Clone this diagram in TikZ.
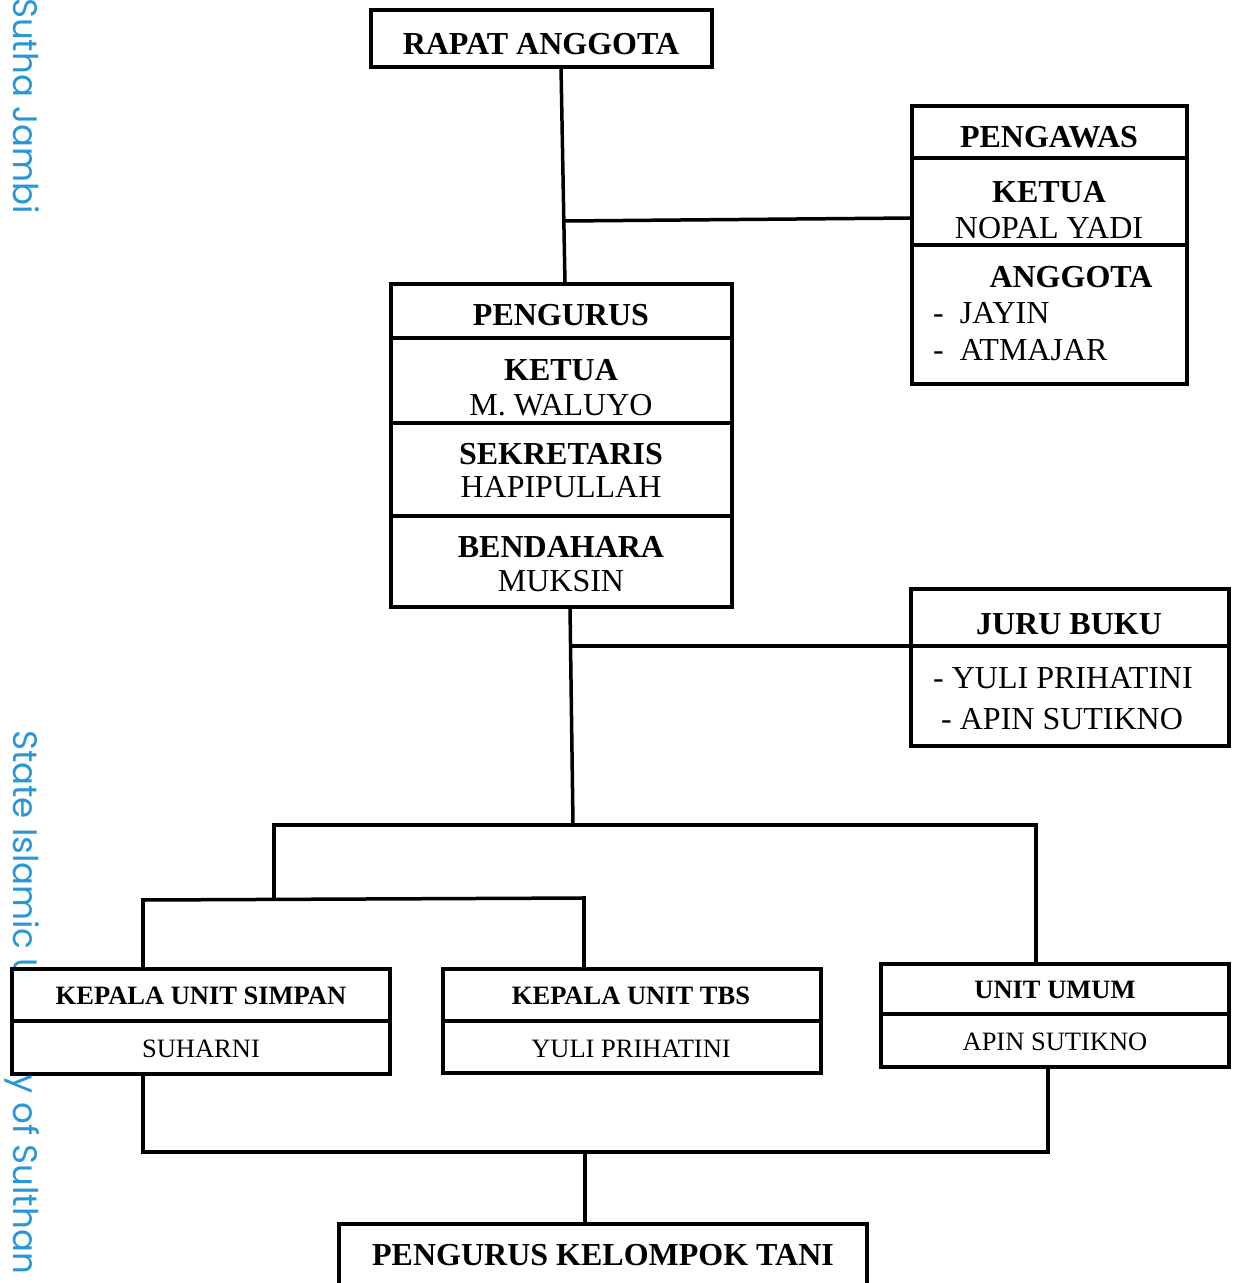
\documentclass[tikz,border=0pt]{standalone}
\usepackage{fontspec}
\setmainfont{Liberation Serif}
\newfontfamily\wmfont{Poppins}
\definecolor{wmblue}{RGB}{40,150,215}
\tikzset{
  box/.style={draw=black, line width=3.5pt, fill=white, rectangle, inner sep=0pt, outer sep=0pt, anchor=north west},
  big/.style={font=\fontsize{32}{36}\selectfont, inner sep=0pt, anchor=base},
  bigb/.style={big, font=\fontsize{32}{36}\selectfont\bfseries},
  small/.style={font=\fontsize{26.5}{30}\selectfont, inner sep=0pt, anchor=base},
  smallb/.style={small, font=\fontsize{26.5}{30}\selectfont\bfseries},
  conn/.style={line width=3.5pt, line cap=rect},
  divider/.style={line width=3.5pt},
  wm/.style={font=\wmfont\fontsize{34}{40}\selectfont, text=wmblue, rotate=-90, inner sep=0pt, anchor=base west}
}
\begin{document}
\begin{tikzpicture}[x=1pt,y=-1pt]
\useasboundingbox (0,0) rectangle (1237,1283);
\clip (0,0) rectangle (1237,1283);
\fill[white] (0,0) rectangle (1237,1283);
% watermark
\node[wm] (wm1) at (13,-2) {Sutha Jambi};
\node[wm] (wm2) at (13,730) {State Islamic Uni};
\node[wm] (wm3) at (13,1062) {ty of Sulthan};

% boxes
\node[box, minimum width=341pt, minimum height=57pt] (rapat) at (371,10) {};
\node[box, minimum width=275pt, minimum height=278pt] (pengawas) at (912,106) {};
\node[box, minimum width=341pt, minimum height=323pt] (pengurus) at (391,284) {};
\node[box, minimum width=318pt, minimum height=157pt] (juru) at (911,589) {};
\node[box, minimum width=378pt, minimum height=105pt] (kus) at (12,969) {};
\node[box, minimum width=378pt, minimum height=104pt] (tbs) at (443,969) {};
\node[box, minimum width=348pt, minimum height=103pt] (umum) at (881,964) {};
\node[box, minimum width=528pt, minimum height=90pt] (kt) at (339,1224) {};

% dividers
\draw[divider] (pengawas.west |- 0,158) -- (pengawas.east |- 0,158);
\draw[divider] (pengawas.west |- 0,245) -- (pengawas.east |- 0,245);
\draw[divider] (pengurus.west |- 0,338) -- (pengurus.east |- 0,338);
\draw[divider] (pengurus.west |- 0,423) -- (pengurus.east |- 0,423);
\draw[divider] (pengurus.west |- 0,516) -- (pengurus.east |- 0,516);
\draw[divider] (juru.west |- 0,646) -- (juru.east |- 0,646);
\draw[divider] (kus.west |- 0,1021) -- (kus.east |- 0,1021);
\draw[divider] (tbs.west |- 0,1021) -- (tbs.east |- 0,1021);
\draw[divider] (umum.west |- 0,1014) -- (umum.east |- 0,1014);

% texts
\node[bigb] (t-rapat) at (541,54) {RAPAT ANGGOTA};
\node[bigb] (t-pengawas) at (1049,147) {PENGAWAS};
\node[bigb] (t-ketua1) at (1049,202) {KETUA};
\node[big] (t-nopal) at (1049,238) {NOPAL YADI};
\node[bigb] (t-anggota) at (1071,287) {ANGGOTA};
\node[big, anchor=base west] (t-jayin) at (933,323) {-~~JAYIN};
\node[big, anchor=base west] (t-atmajar) at (933,360) {-~~ATMAJAR};

\node[bigb] (t-pengurus) at (561,325) {PENGURUS};
\node[bigb] (t-ketua2) at (561,380) {KETUA};
\node[big] (t-waluyo) at (561,415) {M. WALUYO};
\node[bigb] (t-sek) at (561,464) {SEKRETARIS};
\node[big] (t-hapi) at (561,497) {HAPIPULLAH};
\node[bigb] (t-bend) at (561,557) {BENDAHARA};
\node[big] (t-muksin) at (561,591) {MUKSIN};

\node[bigb] (t-juru) at (1069,634) {JURU BUKU};
\node[big, anchor=base west] (t-yuli) at (933,688) {- YULI PRIHATINI};
\node[big, anchor=base west] (t-apin) at (941,729) {- APIN SUTIKNO};

\node[smallb] (t-kus) at (201,1004) {KEPALA UNIT SIMPAN};
\node[small] (t-suharni) at (201,1057) {SUHARNI};
\node[smallb] (t-tbs) at (631,1004) {KEPALA UNIT TBS};
\node[small] (t-yuli2) at (631,1057) {YULI PRIHATINI};
\node[smallb] (t-umum) at (1055,998) {UNIT UMUM};
\node[small] (t-apin2) at (1055,1050) {APIN SUTIKNO};
\node[bigb] (t-kt) at (603,1265) {PENGURUS KELOMPOK TANI};

% junction coordinates
\coordinate (j1) at (564,221);
\coordinate (j2) at (572,646);
\coordinate (j3) at (573,825);
\coordinate (hL) at (274,825);
\coordinate (hR) at (1036,825);
\coordinate (bL) at (274,899);
\coordinate (sL) at (143,900);
\coordinate (sR) at (584,898);
\coordinate (dL) at (143,1152);
\coordinate (dR) at (1048,1152);
\coordinate (dM) at (585,1152);

% connectors
\draw[conn] (rapat.south -| 561,0) -- (pengurus.north -| 565,0);
\draw[conn] (j1) -- (pengawas.west |- 0,218);
\draw[conn] (pengurus.south -| 570,0) -- (j3);
\draw[conn] (j2) -- (juru.west |- 0,646);
\draw[conn] (hL) -- (hR);
\draw[conn] (hL) -- (bL);
\draw[conn] (sL) -- (sR);
\draw[conn] (sL) -- (kus.north -| sL);
\draw[conn] (sR) -- (tbs.north -| sR);
\draw[conn] (hR) -- (umum.north -| hR);
\draw[conn] (kus.south -| dL) -- (dL) -- (dR) -- (umum.south -| dR);
\draw[conn] (dM) -- (kt.north -| dM);
\end{tikzpicture}
\end{document}
